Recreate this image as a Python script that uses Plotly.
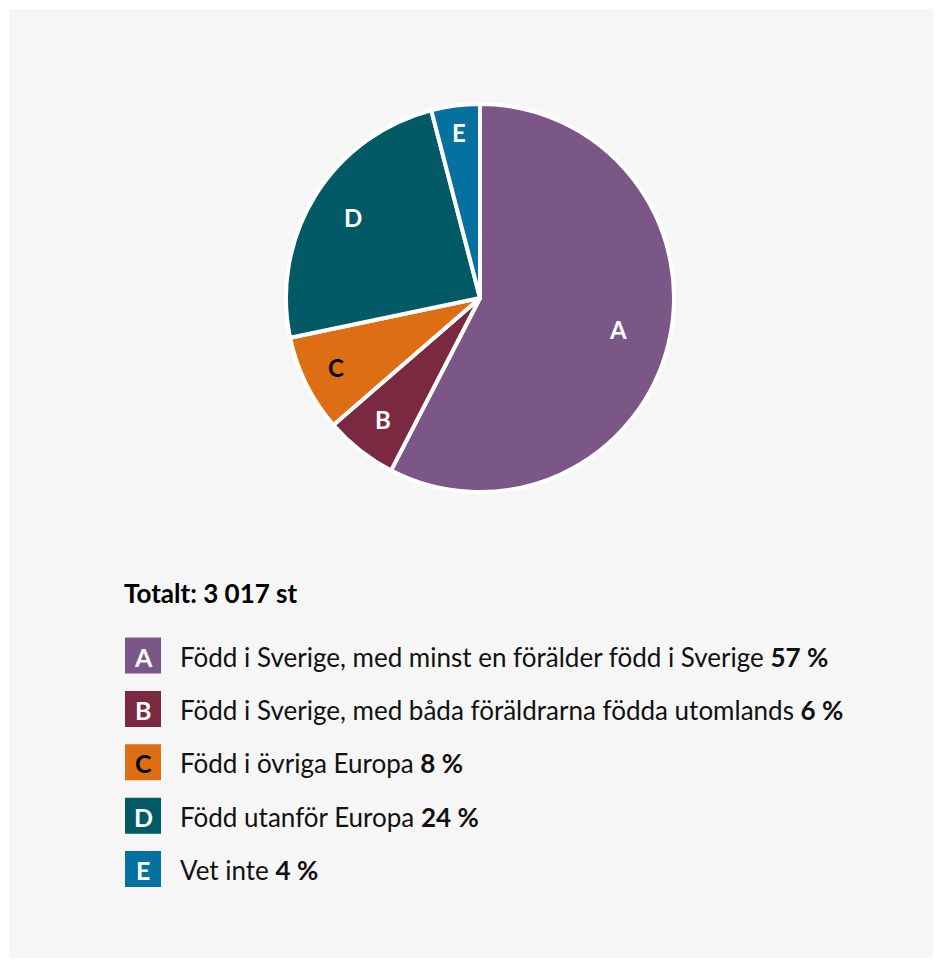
import math
import plotly.graph_objects as go

W, H = 934, 959          # page body has an 8px margin
OFF = 8

letters = ["A", "B", "C", "D", "E"]
descriptions = [
    "Född i Sverige, med minst en förälder född i Sverige",
    "Född i Sverige, med båda föräldrarna födda utomlands",
    "Född i övriga Europa",
    "Född utanför Europa",
    "Vet inte",
]
values = [57, 6, 8, 24, 4]
colors = ["#7b5788", "#7a2940", "#dd6e13", "#025a67", "#06719e"]
text_colors = ["#ffffff", "#ffffff", "#000000", "#ffffff", "#ffffff"]
total_label = "Totalt: 3 017 st"

label_radius = [0.73, 0.81, 0.83, 0.77, 0.85]

FONT = "Lato"

def px(x):
    return (x - OFF) / W

def py(y):
    return 1 - (y - OFF) / H

cx, cy, r = 480, 298, 194

fig = go.Figure()
fig.add_trace(go.Pie(
    labels=letters,
    values=values,
    textinfo="none",
    marker=dict(colors=colors, line=dict(color="#ffffff", width=4)),
    sort=False,
    direction="clockwise",
    rotation=0,
    hoverinfo="label+percent",
    showlegend=False,
    domain=dict(x=[px(cx - r), px(cx + r)], y=[py(cy + r), py(cy - r)]),
))

shapes = [dict(type="rect", xref="paper", yref="paper",
               x0=px(9), x1=px(933), y0=py(958), y1=py(9),
               fillcolor="#f6f6f6", line=dict(width=0), layer="below")]
annotations = []

# slice labels, placed along each slice's mid angle
total = sum(values)
cum = 0
for i, v in enumerate(values):
    mid = (cum + v / 2) / total * 2 * math.pi
    cum += v
    rr = r * label_radius[i]
    lx = cx + rr * math.sin(mid)
    ly = cy - rr * math.cos(mid)
    annotations.append(dict(text="<b>" + letters[i] + "</b>", xref="paper", yref="paper",
                            x=px(lx), y=py(ly - 2), xanchor="center", yanchor="middle",
                            showarrow=False, font=dict(family=FONT, size=24, color=text_colors[i])))

annotations.append(dict(text="<b>" + total_label + "</b>", xref="paper", yref="paper",
                        x=px(122), y=py(593), xanchor="left", yanchor="middle",
                        showarrow=False, font=dict(family=FONT, size=26, color="#000000")))

row0, step, sq = 655.5, 53.4, 36
for i, (l, d, v) in enumerate(zip(letters, descriptions, values)):
    yc = row0 + i * step
    shapes.append(dict(type="rect", xref="paper", yref="paper",
                       x0=px(125), x1=px(125 + sq), y0=py(yc + sq / 2), y1=py(yc - sq / 2),
                       fillcolor=colors[i], line=dict(width=0)))
    annotations.append(dict(text="<b>" + l + "</b>", xref="paper", yref="paper",
                            x=px(125 + sq / 2), y=py(yc + 1), xanchor="center", yanchor="middle",
                            showarrow=False, font=dict(family=FONT, size=25, color=text_colors[i])))
    annotations.append(dict(text=d + " <b>" + str(v) + " %</b>", xref="paper", yref="paper",
                            x=px(178), y=py(yc + 1), xanchor="left", yanchor="middle",
                            showarrow=False, font=dict(family=FONT, size=26, color="#111111")))

fig.update_layout(
    width=W, height=H,
    margin=dict(l=0, r=0, t=0, b=0),
    paper_bgcolor="#ffffff",
    plot_bgcolor="#ffffff",
    shapes=shapes,
    annotations=annotations,
)

fig.write_html("out.html")
